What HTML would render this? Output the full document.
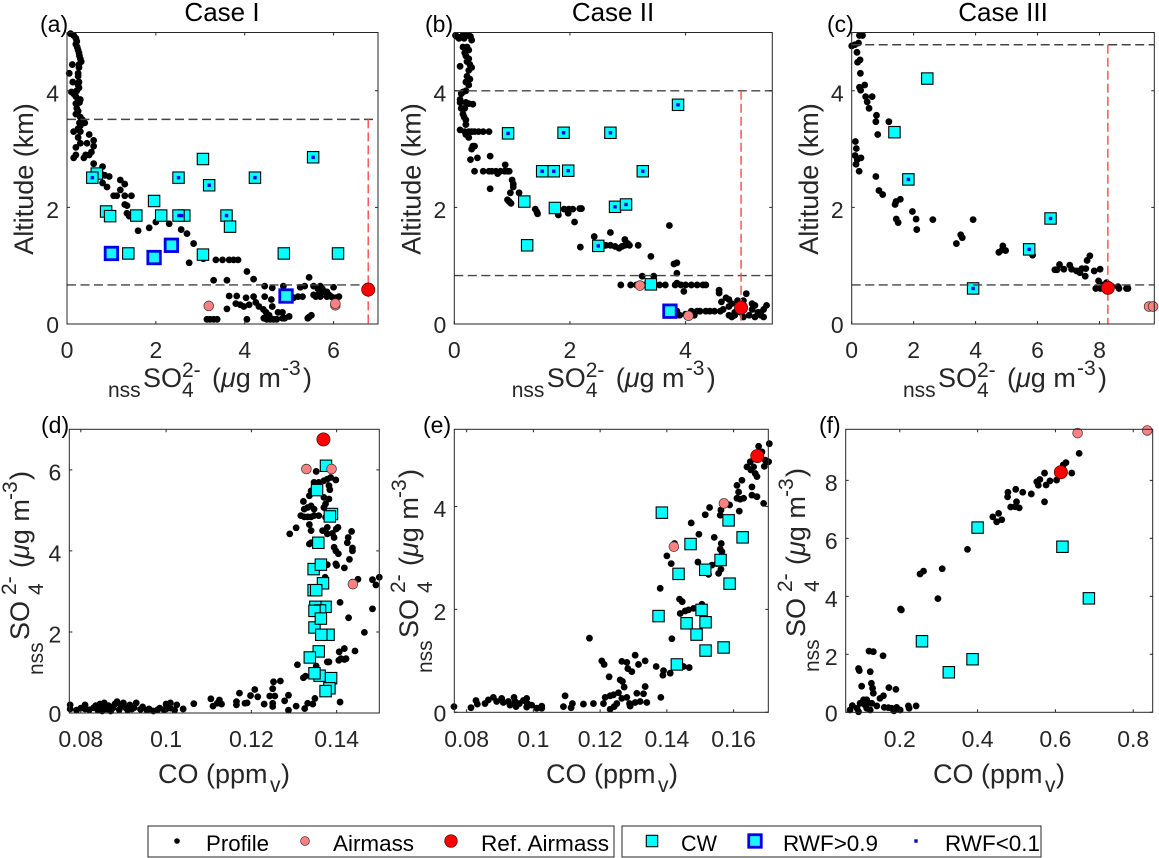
<!DOCTYPE html>
<html lang="en">
<head>
<meta charset="utf-8">
<title>Sulfate and CO profiles by case</title>
<style>
html,body{margin:0;padding:0;background:#fff;}
svg{display:block;font-family:"Liberation Sans",Arial,sans-serif;}
</style>
</head>
<body>
<svg id="fig" xmlns="http://www.w3.org/2000/svg" width="1159" height="858" viewBox="0 0 1159 858"></svg>
<script>
/* ---------- DATA ---------- */
const profileA=[[0.08,4.98],[0.15,4.95],[0.2,4.9],[0.22,4.85],[0.2,4.8],[0.23,4.75],[0.25,4.7],[0.27,4.65],[0.28,4.6],[0.3,4.55],[0.32,4.5],[0.27,4.45],[0.12,4.45],[0.27,4.4],[0.25,4.3],[0.05,4.3],[0.25,4.25],[0.27,4.15],[0.13,4.15],[0.25,4.1],[0.27,4.05],[0.22,4.0],[0.1,3.98],[0.15,3.95],[0.2,3.9],[0.25,3.85],[0.3,3.85],[0.28,3.8],[0.2,3.78],[0.22,3.7],[0.25,3.65],[0.2,3.6],[0.3,3.55],[0.35,3.5],[0.4,3.45],[0.28,3.45],[0.3,3.4],[0.25,3.35],[0.15,3.3],[0.3,3.3],[0.25,3.2],[0.5,3.25],[0.6,3.15],[0.3,3.1],[0.45,3.1],[0.6,3.05],[0.2,3.03],[0.15,2.85],[0.2,2.9],[0.38,2.85],[0.42,2.9],[0.5,2.9],[0.55,2.95],[0.6,2.75],[0.8,2.7],[0.75,2.6],[0.85,2.55],[0.95,2.53],[0.8,2.42],[0.9,2.35],[1.2,2.47],[1.3,2.4],[1.2,2.3],[1.05,2.2],[1.12,2.2],[1.3,2.2],[1.45,2.2],[1.3,2.05],[1.35,2.03],[1.35,1.9],[1.4,1.85],[1.6,1.6],[1.85,1.65],[2.0,1.75],[2.3,1.72],[2.57,1.62],[2.7,1.55],[2.85,1.38],[2.75,1.05],[3.07,1.12],[3.35,1.1],[3.5,1.1],[3.65,1.1],[3.75,1.1],[3.85,1.1],[3.3,0.75],[3.6,0.75],[4.05,0.9],[4.2,0.77],[3.15,0.08],[3.22,0.08],[3.3,0.08],[3.38,0.08],[3.6,0.26],[3.65,0.48],[3.82,0.48],[3.8,0.35],[3.9,0.33],[3.98,0.3],[4.03,0.45],[4.1,0.33],[4.05,0.08],[4.2,0.47],[4.25,0.37],[4.32,0.3],[4.42,0.25],[4.48,0.2],[4.55,0.15],[4.43,0.1],[4.5,0.08],[4.58,0.08],[4.65,0.08],[4.72,0.08],[4.75,0.2],[4.45,0.65],[4.45,0.47],[4.62,0.62],[4.6,0.42],[4.62,0.3],[4.87,0.65],[4.85,0.2],[4.9,0.1],[4.85,0.1],[5.0,0.13],[5.05,0.45],[5.1,0.45],[5.2,0.47],[5.3,0.47],[5.25,0.63],[5.35,0.65],[5.45,0.8],[5.55,0.65],[5.55,0.5],[5.6,0.47],[5.65,0.6],[5.7,0.65],[5.75,0.6],[5.7,0.47],[5.82,0.55],[5.85,0.47],[5.9,0.5],[5.95,0.47],[6.0,0.63],[6.05,0.45],[6.12,0.47],[5.75,0.55],[5.65,0.5],[5.42,0.1],[5.5,0.15],[5.45,0.12],[5.85,0.55]];
const cwA=[[0.67,2.58],[0.57,2.51],[0.88,1.93],[0.97,1.85],[1.56,1.86],[1.96,2.11],[2.12,1.86],[2.64,1.86],[2.51,1.86],[2.51,2.51],[3.06,2.83],[3.2,2.38],[3.59,1.86],[3.67,1.67],[4.23,2.51],[5.54,2.86],[1.38,1.21],[3.06,1.19],[4.88,1.21],[6.1,1.21]];
const rwfHighA=[[1.0,1.21],[1.96,1.14],[2.35,1.35],[4.93,0.48]];
const rwfLowA=[[0.57,2.51],[2.52,1.86],[2.58,1.86],[2.51,2.51],[3.2,2.38],[3.59,1.86],[4.23,2.51],[5.54,2.86]];
const airmassA=[[3.19,0.31],[6.04,0.32],[6.04,0.35]];
const refA=[[6.78,0.59]];
const levelsA=[3.51,0.67];

const profileB=[[0.02,4.95],[0.05,4.93],[0.08,4.9],[0.12,4.92],[0.15,4.95],[0.2,4.95],[0.25,4.95],[0.28,4.93],[0.3,4.87],[0.17,4.9],[0.15,4.75],[0.22,4.75],[0.25,4.7],[0.18,4.65],[0.2,4.6],[0.25,4.55],[0.22,4.5],[0.27,4.45],[0.3,4.4],[0.1,4.42],[0.25,4.35],[0.22,4.25],[0.27,4.2],[0.2,4.15],[0.25,4.1],[0.2,4.0],[0.15,3.98],[0.12,3.95],[0.1,3.85],[0.1,3.8],[0.2,3.8],[0.25,3.78],[0.32,3.77],[0.12,3.7],[0.18,3.7],[0.15,3.6],[0.17,3.55],[0.2,3.5],[0.2,3.42],[0.1,3.33],[0.18,3.3],[0.25,3.3],[0.3,3.3],[0.35,3.3],[0.42,3.3],[0.5,3.3],[0.6,3.3],[0.2,3.25],[0.25,3.2],[0.32,3.05],[0.35,3.05],[0.3,3.0],[0.28,2.82],[0.4,2.85],[0.62,2.88],[0.35,2.62],[0.5,2.62],[0.6,2.62],[0.65,2.62],[0.72,2.62],[0.75,2.58],[0.8,2.62],[0.87,2.62],[0.88,2.73],[0.92,2.62],[0.95,2.62],[1.0,2.47],[1.02,2.4],[1.02,2.35],[0.62,2.32],[0.97,2.25],[1.12,2.25],[0.92,2.13],[0.95,2.1],[0.98,2.07],[1.4,1.97],[1.43,1.92],[1.44,1.89],[1.8,1.87],[1.9,1.97],[1.98,1.97],[2.05,1.97],[1.97,1.9],[2.2,1.98],[2.17,1.98],[2.08,1.75],[1.47,2.62],[2.18,1.32],[2.42,1.5],[2.7,1.57],[2.62,1.35],[2.7,1.35],[2.78,1.33],[2.85,1.3],[2.9,1.33],[2.95,1.35],[2.95,1.45],[3.0,1.38],[3.03,1.35],[3.18,1.35],[3.4,1.16],[3.72,1.69],[3.8,1.03],[3.85,1.05],[3.85,0.87],[3.25,0.82],[3.45,0.82],[2.88,0.67],[3.05,0.67],[3.15,0.67],[3.3,0.67],[3.45,0.67],[3.55,0.67],[3.65,0.67],[3.82,0.67],[3.85,0.7],[3.92,0.67],[4.0,0.67],[4.1,0.67],[4.2,0.67],[4.3,0.67],[4.35,0.67],[3.97,0.56],[3.85,0.22],[3.9,0.15],[4.0,0.17],[4.1,0.22],[4.15,0.15],[4.2,0.22],[4.25,0.22],[4.35,0.22],[4.42,0.22],[4.5,0.22],[4.6,0.22],[4.65,0.25],[4.58,0.58],[4.58,0.53],[4.62,0.38],[4.7,0.45],[4.75,0.3],[4.75,0.42],[4.8,0.35],[4.85,0.2],[4.75,0.15],[4.8,0.12],[4.85,0.15],[4.9,0.25],[4.95,0.2],[5.0,0.12],[5.0,0.3],[5.05,0.52],[5.0,0.4],[5.1,0.15],[5.15,0.25],[5.2,0.12],[5.2,0.32],[5.25,0.2],[5.3,0.15],[5.35,0.12],[5.4,0.32],[5.35,0.25],[5.3,0.2],[4.9,0.4],[5.15,0.35]];
const cwB=[[0.93,3.27],[1.89,3.28],[2.7,3.28],[3.87,3.76],[1.52,2.62],[1.72,2.62],[1.97,2.63],[3.26,2.62],[2.78,2.01],[2.97,2.05],[2.49,1.34],[1.21,2.1],[1.74,1.99],[1.26,1.35],[3.4,0.68]];
const rwfHighB=[[3.73,0.22]];
const rwfLowB=[[0.93,3.27],[1.89,3.28],[2.7,3.28],[3.87,3.76],[1.52,2.62],[1.72,2.62],[1.97,2.63],[3.26,2.62],[2.78,2.01],[2.97,2.05],[2.49,1.34]];
const airmassB=[[3.21,0.66],[4.05,0.14]];
const refB=[[4.96,0.28]];
const levelsB=[4.0,0.83];

const profileC=[[0.25,4.95],[0.35,4.95],[0,4.77],[0.1,4.79],[0.22,4.82],[0.17,4.66],[0.19,4.49],[0.27,4.53],[0.28,4.3],[0.25,4.06],[0.42,4.1],[0.29,4.01],[0.45,3.9],[0.66,3.9],[0.5,3.81],[0.56,3.7],[0.8,3.58],[0.78,3.47],[1.2,3.47],[0.84,3.25],[0.12,3.13],[0.15,3.01],[0.11,2.89],[0.3,2.85],[0.18,2.82],[0.14,2.74],[0.24,2.62],[0.78,2.53],[0.88,2.29],[1.0,2.22],[1.57,2.14],[1.43,2.1],[1.4,2.05],[1.96,1.93],[1.44,1.8],[1.5,1.74],[2.08,1.8],[2.1,1.62],[2.62,1.79],[3.92,1.79],[3.52,1.53],[3.57,1.48],[3.38,1.38],[4.75,1.23],[4.88,1.34],[4.86,1.27],[4.97,1.26],[5.84,1.18],[6.56,0.93],[6.63,0.93],[6.71,1.02],[6.85,0.94],[7.04,1.01],[7.1,0.94],[7.26,0.91],[7.37,0.88],[7.43,0.95],[7.56,0.95],[7.54,0.82],[7.6,1.09],[7.69,1.17],[7.83,0.91],[8.02,0.94],[7.97,0.74],[7.88,0.61],[8.03,0.61],[8.12,0.67],[8.23,0.71],[8.39,0.65],[8.6,0.64],[8.63,0.61],[8.87,0.61],[8.92,0.61]];
const cwC=[[2.44,4.21],[1.38,3.29],[1.83,2.48],[6.42,1.81],[5.73,1.28],[3.92,0.61]];
const rwfHighC=[];
const rwfLowC=[[1.83,2.48],[6.42,1.81],[5.73,1.28],[3.92,0.61]];
const airmassC=[[9.6,0.3],[9.73,0.3]];
const refC=[[8.27,0.62]];
const levelsC=[4.79,0.67];

const profileD=[[0.0775,0.2],[0.0775,0.1],[0.079,0.07],[0.08,0.12],[0.081,0.1],[0.081,0.2],[0.082,0.08],[0.083,0.13],[0.0835,0.18],[0.084,0.07],[0.0845,0.22],[0.085,0.05],[0.085,0.15],[0.0855,0.25],[0.086,0.1],[0.0865,0.18],[0.087,0.05],[0.0875,0.12],[0.088,0.22],[0.0885,0.28],[0.089,0.08],[0.0895,0.17],[0.09,0.25],[0.0905,0.13],[0.091,0.07],[0.0915,0.2],[0.092,0.1],[0.093,0.25],[0.0925,0.13],[0.094,0.09],[0.0945,0.15],[0.0955,0.07],[0.096,0.1],[0.097,0.05],[0.098,0.08],[0.0985,0.12],[0.0995,0.08],[0.1,0.1],[0.1,0.22],[0.101,0.25],[0.101,0.12],[0.102,0.07],[0.1025,0.2],[0.104,0.1],[0.1065,0.23],[0.1105,0.35],[0.111,0.17],[0.1125,0.32],[0.112,0.24],[0.113,0.22],[0.1165,0.28],[0.1165,0.2],[0.1172,0.49],[0.1185,0.24],[0.119,0.25],[0.1198,0.43],[0.1208,0.58],[0.1215,0.4],[0.123,0.22],[0.1243,0.42],[0.125,0.6],[0.1252,0.77],[0.1268,0.79],[0.125,0.24],[0.125,0.16],[0.1255,0.42],[0.1278,0.3],[0.1287,0.44],[0.1287,0.07],[0.1305,0.17],[0.1308,1.19],[0.1322,0.87],[0.1327,0.91],[0.1325,0.11],[0.1332,0.24],[0.1344,0.22],[0.1349,0.36],[0.1408,0.27],[0.1352,1.16],[0.1382,1.26],[0.1378,1.26],[0.1418,1.59],[0.1406,1.51],[0.1405,1.3],[0.141,1.34],[0.1418,1.32],[0.1422,1.34],[0.1443,1.53],[0.1465,1.99],[0.1428,2.35],[0.1408,2.73],[0.1484,2.57],[0.1492,3.16],[0.1484,3.29],[0.15,3.35],[0.145,3.3],[0.1437,3.23],[0.1373,3.35],[0.14,3.64],[0.1418,3.58],[0.1378,3.66],[0.1398,3.68],[0.143,3.79],[0.1437,4.0],[0.1437,4.07],[0.1404,3.93],[0.1398,4.0],[0.1394,4.09],[0.1425,4.2],[0.1427,4.33],[0.1435,4.48],[0.1394,4.33],[0.139,4.43],[0.1378,4.42],[0.1367,4.5],[0.1378,4.58],[0.1403,4.58],[0.1399,4.54],[0.129,4.42],[0.1305,4.57],[0.1336,4.17],[0.134,4.2],[0.134,4.5],[0.1336,4.65],[0.1316,4.87],[0.1324,4.84],[0.1332,4.84],[0.134,4.84],[0.1347,4.87],[0.1358,4.87],[0.1374,4.83],[0.1324,5.03],[0.1332,5.07],[0.134,5.11],[0.1347,5.03],[0.1322,5.22],[0.1336,5.36],[0.134,5.48],[0.1352,5.57],[0.1347,5.69],[0.1358,5.69],[0.137,5.73],[0.1378,5.77],[0.1386,5.81],[0.1398,5.75],[0.1382,5.61],[0.1384,5.51],[0.137,5.32],[0.1382,5.28],[0.1374,5.16],[0.137,5.07],[0.1352,5.96]];
const cwD=[[0.1375,6.1],[0.1354,5.5],[0.1389,4.91],[0.1384,4.85],[0.1357,4.2],[0.1346,3.55],[0.1363,3.66],[0.1346,3.03],[0.1368,3.2],[0.1352,3.03],[0.1374,2.62],[0.135,2.62],[0.1361,2.53],[0.1348,2.52],[0.1348,2.11],[0.1363,2.33],[0.1381,1.93],[0.1364,1.93],[0.1358,1.52],[0.1337,1.37],[0.136,0.92],[0.1348,0.98],[0.1387,0.86],[0.1383,0.61],[0.1374,0.54]];
const rwfHighD=[];
const rwfLowD=[];
const airmassD=[[0.1329,6.02],[0.1388,6.02],[0.1438,3.18]];
const refD=[[0.1369,6.75]];

const profileE=[[0.0762,0.11],[0.0813,0.09],[0.0828,0.23],[0.0832,0.16],[0.0855,0.17],[0.0865,0.24],[0.088,0.29],[0.089,0.21],[0.0905,0.27],[0.091,0.19],[0.0925,0.21],[0.093,0.14],[0.0942,0.29],[0.0945,0.21],[0.0948,0.11],[0.0958,0.17],[0.097,0.23],[0.098,0.27],[0.0982,0.17],[0.098,0.1],[0.0995,0.14],[0.101,0.08],[0.1025,0.12],[0.1025,0.08],[0.1095,0.32],[0.109,0.11],[0.1117,0.17],[0.1113,0.09],[0.115,0.16],[0.118,0.17],[0.1168,1.44],[0.1205,1.0],[0.1212,0.93],[0.1227,0.69],[0.121,0.17],[0.1215,0.29],[0.123,0.32],[0.124,0.34],[0.123,0.06],[0.1242,0.11],[0.125,0.17],[0.1255,0.38],[0.126,0.63],[0.1267,0.6],[0.1272,0.49],[0.1265,0.99],[0.128,0.97],[0.1283,0.85],[0.1295,0.79],[0.1288,0.17],[0.129,0.12],[0.1305,1.11],[0.1315,0.93],[0.1335,1.0],[0.131,0.37],[0.133,0.36],[0.1335,0.5],[0.1305,0.19],[0.132,0.21],[0.134,0.19],[0.1265,0.27],[0.128,0.29],[0.1368,0.89],[0.139,0.81],[0.1388,0.72],[0.141,0.76],[0.1382,0.29],[0.138,2.41],[0.1415,1.43],[0.145,0.89],[0.1467,0.87],[0.1438,2.2],[0.1446,2.15],[0.144,1.92],[0.1455,1.97],[0.1465,1.99],[0.148,2.02],[0.1505,2.1],[0.14,3.04],[0.1413,2.89],[0.1423,3.28],[0.1473,3.68],[0.1496,3.46],[0.1493,2.92],[0.1542,3.4],[0.1563,3.28],[0.156,3.17],[0.1565,3.12],[0.155,2.89],[0.1535,2.86],[0.1562,2.78],[0.1555,2.7],[0.1525,2.68],[0.1515,3.84],[0.1528,3.98],[0.1562,3.93],[0.156,3.83],[0.1588,4.03],[0.1617,3.91],[0.161,4.41],[0.1625,4.51],[0.1615,4.28],[0.161,4.16],[0.162,4.14],[0.163,4.16],[0.1655,4.38],[0.1655,4.22],[0.167,4.19],[0.169,4.06],[0.164,4.77],[0.1652,4.71],[0.165,4.87],[0.166,4.77],[0.1665,4.64],[0.167,4.58],[0.1675,5.17],[0.1707,5.22],[0.1685,5.06],[0.1695,4.9],[0.1705,4.87],[0.1692,4.78],[0.1665,5.03]];
const cwE=[[0.1385,3.88],[0.1585,3.73],[0.1627,3.4],[0.1471,3.27],[0.1561,2.96],[0.1515,2.77],[0.1435,2.69],[0.1588,2.5],[0.1504,1.99],[0.1375,1.87],[0.1459,1.73],[0.1516,1.75],[0.1489,1.51],[0.1516,1.2],[0.157,1.26],[0.143,0.93]];
const rwfHighE=[];
const rwfLowE=[];
const airmassE=[[0.1421,3.22],[0.1571,4.06]];
const refE=[[0.1671,4.98]];

const profileF=[[0.072,0.08],[0.078,0.23],[0.094,0.02],[0.09,0.14],[0.098,0.31],[0.107,0.43],[0.111,0.25],[0.115,0.43],[0.119,0.33],[0.115,0.14],[0.128,0.31],[0.124,0.08],[0.141,0.22],[0.094,1.51],[0.096,1.44],[0.121,2.11],[0.132,2.09],[0.157,1.95],[0.124,1.4],[0.127,1.0],[0.102,0.9],[0.13,0.83],[0.132,0.66],[0.149,0.48],[0.158,0.57],[0.172,0.85],[0.19,0.79],[0.16,0.17],[0.171,0.16],[0.179,0.14],[0.185,0.05],[0.192,0.17],[0.201,0.08],[0.222,0.22],[0.224,0.14],[0.242,0.22],[0.202,3.56],[0.204,3.53],[0.252,4.77],[0.261,4.87],[0.298,3.92],[0.309,4.95],[0.374,5.62],[0.439,6.74],[0.449,6.57],[0.454,6.86],[0.462,6.64],[0.478,7.59],[0.477,7.43],[0.485,7.08],[0.498,7.69],[0.5,7.26],[0.496,7.09],[0.507,7.05],[0.516,7.59],[0.538,7.53],[0.572,7.26],[0.552,7.95],[0.56,8.03],[0.556,7.83],[0.576,7.84],[0.586,7.98],[0.572,8.25],[0.603,8.01],[0.62,8.53],[0.627,8.61],[0.642,8.25],[0.661,8.93]];
const cwF=[[0.4,6.37],[0.618,5.71],[0.686,3.93],[0.257,2.45],[0.387,1.83],[0.326,1.38]];
const rwfHighF=[];
const rwfLowF=[];
const airmassF=[[0.657,9.63],[0.836,9.72]];
const refF=[[0.614,8.28]];

const altitudeTicks=[0,2,4];
const xTicksA=[0,2,4,6];
const xTicksB=[0,2,4];
const xTicksC=[0,2,4,6,8];
const xTicksD=[0.08,0.1,0.12,0.14];
const xTicksE=[0.08,0.1,0.12,0.14,0.16];
const xTicksF=[0.2,0.4,0.6,0.8];
const yTicksD=[0,2,4,6];
const yTicksE=[0,2,4];
const yTicksF=[0,2,4,6,8];

/* ---------- DRAWING ---------- */
const NS='http://www.w3.org/2000/svg';
const svg=document.getElementById('fig');
function mk(parent,tag,attrs,txt){
  const e=document.createElementNS(NS,tag);
  for(const k in attrs)e.setAttribute(k,attrs[k]);
  if(txt!==undefined)e.textContent=txt;
  parent.appendChild(e);
  return e;
}
function profileDot(g,x,y,r){
  const c=mk(g,'circle',{cx:x,cy:y,r:r,fill:'#000'});
  
  
}
function cwSquare(g,x,y,s){
  const r=mk(g,'rect',{x:x-s/2,y:y-s/2,width:s,height:s,fill:'#00ffff',stroke:'#000','stroke-width':1.1});
  
  
}
function highSquare(g,x,y){
  const r=mk(g,'rect',{x:x-6.25,y:y-6.25,width:12.5,height:12.5,fill:'#1cf5f5',stroke:'#0000e8','stroke-width':2.8});
  
  
}
function lowDot(g,x,y){
  const r=mk(g,'rect',{x:x-1.7,y:y-1.7,width:3.4,height:3.4,fill:'#0000f0'});
  
  
}
function airDot(g,x,y,r){
  const c=mk(g,'circle',{cx:x,cy:y,r:r,fill:'#ff8080',stroke:'#333','stroke-width':0.7});
  
  
}
function refDot(g,x,y,r){
  const c=mk(g,'circle',{cx:x,cy:y,r:r,fill:'#ff0000',stroke:'#400','stroke-width':0.7});
  
  
}
function panel(p){
  const g=mk(svg,'g',{});
  
  
  const sx=v=>p.L+(v-p.x0)/(p.x1-p.x0)*(p.R-p.L);
  const sy=v=>p.B-(v-p.y0)/(p.y1-p.y0)*(p.B-p.T);

  p.profile.forEach(d=>profileDot(g,sx(d[0]),sy(d[1]),3.4));
  p.cw.forEach(d=>cwSquare(g,sx(d[0]),sy(d[1]),11.4));
  p.high.forEach(d=>highSquare(g,sx(d[0]),sy(d[1])));
  p.low.forEach(d=>lowDot(g,sx(d[0]),sy(d[1])));

  if(p.levels){
    p.levels.forEach(v=>{
      const l=mk(g,'line',{x1:p.L,x2:p.R,y1:sy(v),y2:sy(v),stroke:'#444','stroke-width':1.4,'stroke-dasharray':'9 4.5'});
      
      
    });
    const v=mk(g,'line',{x1:sx(p.ref[0][0]),x2:sx(p.ref[0][0]),y1:sy(p.levels[0]),y2:p.B,stroke:'#ff5555','stroke-width':1.5,'stroke-dasharray':'9 4'});
    
    
  }

  p.air.forEach(d=>airDot(g,sx(d[0]),sy(d[1]),4.9));
  p.ref.forEach(d=>refDot(g,sx(d[0]),sy(d[1]),6.6));

  const f=mk(g,'rect',{x:p.L,y:p.T,width:p.R-p.L,height:p.B-p.T,fill:'none',stroke:'#262626','stroke-width':1});
  
  

  p.xt.forEach(v=>{
    const x=sx(v);
    const t1=mk(g,'path',{d:`M${x} ${p.B}v-3M${x} ${p.T}v3`,stroke:'#262626','stroke-width':1,fill:'none'});
    
    
    const t=mk(g,'text',{x:x,y:p.xLabelBase,'text-anchor':'middle','font-size':p.tickSize,fill:'#262626'},String(v));
    
    
  });
  p.yt.forEach(v=>{
    const y=sy(v);
    const t1=mk(g,'path',{d:`M${p.L} ${y}h3M${p.R} ${y}h-3`,stroke:'#262626','stroke-width':1,fill:'none'});
    
    
    const t=mk(g,'text',{x:p.L-8,y:y+10.5-(v===0?1.5:0),'text-anchor':'end','font-size':p.tickSize,fill:'#262626'},String(v));
    
    
  });

  const tag=mk(g,'text',{x:p.tagX,y:p.tagY,'font-size':23,fill:'#000'},'('+p.id+')');
  
  
  if(p.title){
    const t=mk(g,'text',{x:p.titleX,y:21,'text-anchor':'middle','font-size':26,fill:'#000'},p.title);
    
    
  }
  if(p.altX){
    const t=mk(g,'text',{x:p.altX,y:179,'text-anchor':'middle','font-size':27,fill:'#262626',transform:`rotate(-90 ${p.altX} 179)`},'Altitude (km)');
    
    
  }
  if(p.sulfX) sulfate(g,p.sulfX,387,0,'x-axis-title');
  if(p.sulfY) sulfate(g,p.sulfY[0],p.sulfY[1],-90,'y-axis-title');
  if(p.coX) carbon(g,p.coX);
}
function sulfate(parent,x,y,rot,name){
  const g=mk(parent,'g',{fill:'#262626',transform:`translate(${x} ${y}) rotate(${rot})`});
  
  
  mk(g,'text',{x:0,y:rot?14:10,'font-size':21},'nss');
  mk(g,'text',{x:35,y:0,'font-size':27},'SO');
  mk(g,'text',{x:rot?80:74,y:rot?14:10,'font-size':21},'4');
  mk(g,'text',{x:rot?80:74,y:rot?-13:-10,'font-size':21},'2-');
  const t=mk(g,'text',{x:rot?107:104,y:0,'font-size':27},'(');
  const m=mk(t,'tspan',{'font-style':'italic'},'\u03BC');
  
  
  mk(t,'tspan',{},'g m');
  mk(g,'text',{x:rot?175:174,y:-12,'font-size':21},'-3');
  mk(g,'text',{x:195,y:0,'font-size':27},')');
}
function carbon(parent,x){
  const g=mk(parent,'g',{fill:'#262626'});
  
  
  mk(g,'text',{x:x,y:783,'font-size':27},'CO (ppm');
  mk(g,'text',{x:x+112,y:792,'font-size':21},'v');
  mk(g,'text',{x:x+123,y:783,'font-size':27},')');
}

panel({id:'a',L:67,R:378,T:32.5,B:324,x0:0,x1:7,y0:0,y1:5,xt:xTicksA,yt:altitudeTicks,tickSize:23,xLabelBase:358,
  profile:profileA,cw:cwA,high:rwfHighA,low:rwfLowA,air:airmassA,ref:refA,levels:levelsA,
  tagX:40,tagY:32,title:'Case I',titleX:222,altX:33,sulfX:108});
panel({id:'b',L:454.3,R:772.3,T:32.5,B:324,x0:0,x1:5.5,y0:0,y1:5,xt:xTicksB,yt:altitudeTicks,tickSize:23,xLabelBase:358,
  profile:profileB,cw:cwB,high:rwfHighB,low:rwfLowB,air:airmassB,ref:refB,levels:levelsB,
  tagX:425,tagY:32,title:'Case II',titleX:613,altX:420.5,sulfX:511.7});
panel({id:'c',L:851.7,R:1154.3,T:32.5,B:324,x0:0,x1:9.77,y0:0,y1:5,xt:xTicksC,yt:altitudeTicks,tickSize:23,xLabelBase:358,
  profile:profileC,cw:cwC,high:rwfHighC,low:rwfLowC,air:airmassC,ref:refC,levels:levelsC,
  tagX:827,tagY:32,title:'Case III',titleX:1003,altX:818,sulfX:903});
panel({id:'d',L:69.3,R:379.3,T:429.3,B:713,x0:0.0773,x1:0.15,y0:0,y1:7,xt:xTicksD,yt:yTicksD,tickSize:23,xLabelBase:747,
  profile:profileD,cw:cwD,high:rwfHighD,low:rwfLowD,air:airmassD,ref:refD,
  tagX:41,tagY:433,sulfY:[29,675],coX:158});
panel({id:'e',L:454.3,R:768.3,T:429.3,B:712.3,x0:0.0763,x1:0.1704,y0:0,y1:5.5,xt:xTicksE,yt:yTicksE,tickSize:23,xLabelBase:747,
  profile:profileE,cw:cwE,high:rwfHighE,low:rwfLowE,air:airmassE,ref:refE,
  tagX:423,tagY:433,sulfY:[418,673],coX:546});
panel({id:'f',L:845.7,R:1152.7,T:429.3,B:712.3,x0:0.061,x1:0.85,y0:0,y1:9.76,xt:xTicksF,yt:yTicksF,tickSize:23,xLabelBase:747,
  profile:profileF,cw:cwF,high:rwfHighF,low:rwfLowF,air:airmassF,ref:refF,
  tagX:819,tagY:433,sulfY:[805,672],coX:933});

/* ---------- LEGENDS ---------- */
function legendText(g,x,w,s){
  const t=mk(g,'text',{x:x,y:851,'font-size':22,fill:'#000',textLength:w,lengthAdjust:'spacingAndGlyphs'},s);
  
  
}
const lg1=mk(svg,'g',{});


const lb1=mk(lg1,'rect',{x:148,y:826,width:466,height:31,fill:'#fff',stroke:'#262626','stroke-width':1});


profileDot(lg1,177,841,2.8);
legendText(lg1,206,63,'Profile');
airDot(lg1,305,841,4.4);
legendText(lg1,333,81,'Airmass');
refDot(lg1,451,841,6.3);
legendText(lg1,481,128,'Ref. Airmass');

const lg2=mk(svg,'g',{});


const lb2=mk(lg2,'rect',{x:622,y:826,width:419,height:31,fill:'#fff',stroke:'#262626','stroke-width':1});


cwSquare(lg2,652,841,11.4);
legendText(lg2,681,36,'CW');
highSquare(lg2,755,841);
legendText(lg2,783,95,'RWF>0.9');
lowDot(lg2,916,841);
legendText(lg2,945,95,'RWF<0.1');
</script>
</body>
</html>
